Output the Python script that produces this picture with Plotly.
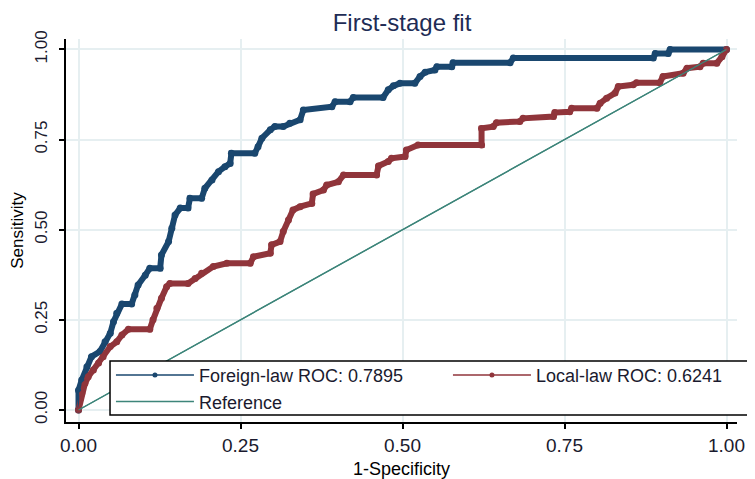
import plotly.graph_objects as go

# ---- data ----
fpr_foreign = [0.0, 0.0, 0.005, 0.013, 0.020, 0.033, 0.041, 0.049, 0.054, 0.059, 0.067, 0.082,
               0.087, 0.092, 0.103, 0.110, 0.126, 0.128, 0.139, 0.144, 0.149, 0.157, 0.169,
               0.172, 0.190, 0.195, 0.206, 0.216, 0.226, 0.234, 0.236, 0.272, 0.277, 0.283,
               0.296, 0.303, 0.316, 0.326, 0.342, 0.347, 0.391, 0.396, 0.419, 0.424, 0.470,
               0.478, 0.486, 0.496, 0.519, 0.527, 0.535, 0.550, 0.553, 0.576, 0.578, 0.666,
               0.671, 0.887, 0.890, 0.910, 0.913, 1.0]
tpr_foreign = [0.0, 0.055, 0.083, 0.120, 0.148, 0.162, 0.189, 0.213, 0.245, 0.268, 0.294, 0.294,
               0.319, 0.347, 0.374, 0.393, 0.393, 0.430, 0.467, 0.504, 0.541, 0.560, 0.560,
               0.587, 0.587, 0.615, 0.638, 0.661, 0.675, 0.684, 0.712, 0.712, 0.730, 0.754,
               0.777, 0.786, 0.786, 0.795, 0.805, 0.832, 0.841, 0.855, 0.855, 0.867, 0.867,
               0.888, 0.899, 0.906, 0.906, 0.925, 0.937, 0.943, 0.952, 0.952, 0.963, 0.963,
               0.976, 0.976, 0.989, 0.989, 1.0, 1.0]

fpr_local = [0.0, 0.005, 0.010, 0.015, 0.023, 0.031, 0.038, 0.049, 0.059, 0.067, 0.077, 0.110,
             0.115, 0.121, 0.128, 0.136, 0.141, 0.169, 0.180, 0.190, 0.208, 0.229, 0.265,
             0.270, 0.296, 0.298, 0.311, 0.316, 0.324, 0.331, 0.342, 0.360, 0.362, 0.378,
             0.383, 0.401, 0.409, 0.460, 0.463, 0.478, 0.483, 0.504, 0.506, 0.524, 0.622,
             0.622, 0.640, 0.645, 0.681, 0.686, 0.733, 0.735, 0.758, 0.761, 0.800, 0.805,
             0.815, 0.828, 0.833, 0.856, 0.861, 0.897, 0.902, 0.933, 0.939, 0.959, 0.964,
             0.985, 0.993, 1.0]
tpr_local = [0.0, 0.046, 0.074, 0.092, 0.111, 0.130, 0.148, 0.176, 0.189, 0.208, 0.224, 0.224,
             0.250, 0.282, 0.310, 0.342, 0.351, 0.351, 0.365, 0.379, 0.398, 0.407, 0.407,
             0.425, 0.435, 0.458, 0.467, 0.495, 0.527, 0.555, 0.564, 0.573, 0.599, 0.610,
             0.624, 0.633, 0.652, 0.652, 0.677, 0.689, 0.698, 0.703, 0.721, 0.735, 0.735,
             0.781, 0.786, 0.797, 0.800, 0.809, 0.814, 0.825, 0.827, 0.837, 0.837, 0.851,
             0.865, 0.879, 0.897, 0.902, 0.908, 0.908, 0.925, 0.934, 0.948, 0.952, 0.962,
             0.962, 0.980, 1.0]

ref_x = [0.0, 1.0]
ref_y = [0.0, 1.0]

tick_vals = [0.0, 0.25, 0.5, 0.75, 1.0]
tick_text = ["0.00", "0.25", "0.50", "0.75", "1.00"]

name_foreign = "Foreign-law ROC: 0.7895"
name_local = "Local-law ROC: 0.6241"
name_ref = "Reference"

# ---- style ----
NAVY = "#1a476f"
MAROON = "#90353b"
TEAL = "#3d857a"
GRID = "#e6eff1"
FONT = "Liberation Sans, Arial, sans-serif"
TXT = "#1a1a2e"

# the page body adds an 8px offset; the figure is sized/shifted to compensate
W, H = 747, 471

fig = go.Figure()

# thick curves (no legend)
fig.add_trace(go.Scatter(x=fpr_foreign, y=tpr_foreign, mode="lines+markers",
                         line=dict(color=NAVY, width=6), marker=dict(color=NAVY, size=7),
                         showlegend=False, hoverinfo="skip"))
fig.add_trace(go.Scatter(x=fpr_local, y=tpr_local, mode="lines+markers",
                         line=dict(color=MAROON, width=6), marker=dict(color=MAROON, size=7),
                         showlegend=False, hoverinfo="skip"))
fig.add_trace(go.Scatter(x=ref_x, y=ref_y, mode="lines",
                         line=dict(color=TEAL, width=1.3), showlegend=False, hoverinfo="skip"))

# legend entries (thin style, same data)
fig.add_trace(go.Scatter(x=fpr_foreign, y=tpr_foreign, mode="lines+markers", name=name_foreign,
                         line=dict(color=NAVY, width=1.5), marker=dict(color=NAVY, size=5)))
fig.add_trace(go.Scatter(x=fpr_local, y=tpr_local, mode="lines+markers", name=name_local,
                         line=dict(color=MAROON, width=1.5), marker=dict(color=MAROON, size=5)))
fig.add_trace(go.Scatter(x=ref_x, y=ref_y, mode="lines", name=name_ref,
                         line=dict(color=TEAL, width=1.3)))

# legend box (drawn as a shape so its width matches)
fig.add_shape(type="rect", xref="paper", yref="paper",
              x0=0.0656, x1=1.0253, y0=0.0183, y1=0.1593,
              fillcolor="white", line=dict(color="black", width=1.5), layer="above")

axis_common = dict(
    tickvals=tick_vals, ticktext=tick_text,
    showgrid=True, gridcolor=GRID, gridwidth=1.5,
    showline=True, linecolor="black", linewidth=1.5,
    ticks="outside", ticklen=5, tickwidth=1.5, tickcolor="black",
    zeroline=False,
)

fig.update_layout(
    width=W, height=H,
    margin=dict(l=58, r=18, t=31, b=57, autoexpand=False),
    paper_bgcolor="white", plot_bgcolor="white",
    font=dict(family=FONT, color=TXT),
    title=dict(text="First-stage fit", x=394/W, xref="container", xanchor="center",
               y=1 - 15/H, yref="container", yanchor="middle",
               font=dict(size=24, color="#1e2c55", family=FONT)),
    xaxis=dict(range=[-0.0193, 1.0162], tickfont=dict(size=19, color=TXT),
               title=dict(text="1-Specificity", font=dict(size=18, color="black"), standoff=12),
               **axis_common),
    yaxis=dict(range=[-0.0333, 1.029], tickangle=-90, tickfont=dict(size=17, color=TXT),
               ticklabelstandoff=5,
               title=dict(text="Sensitivity", font=dict(size=17, color="black"), standoff=6),
               **axis_common),
    legend=dict(orientation="h", x=0.067, y=0.170, xanchor="left", yanchor="top",
                xref="paper", yref="paper",
                bgcolor="rgba(0,0,0,0)", borderwidth=0,
                itemwidth=78, entrywidth=244, entrywidthmode="pixels",
                font=dict(size=18, color=TXT, family=FONT),
                itemclick=False, itemdoubleclick=False),
)

fig.write_html("out.html")
